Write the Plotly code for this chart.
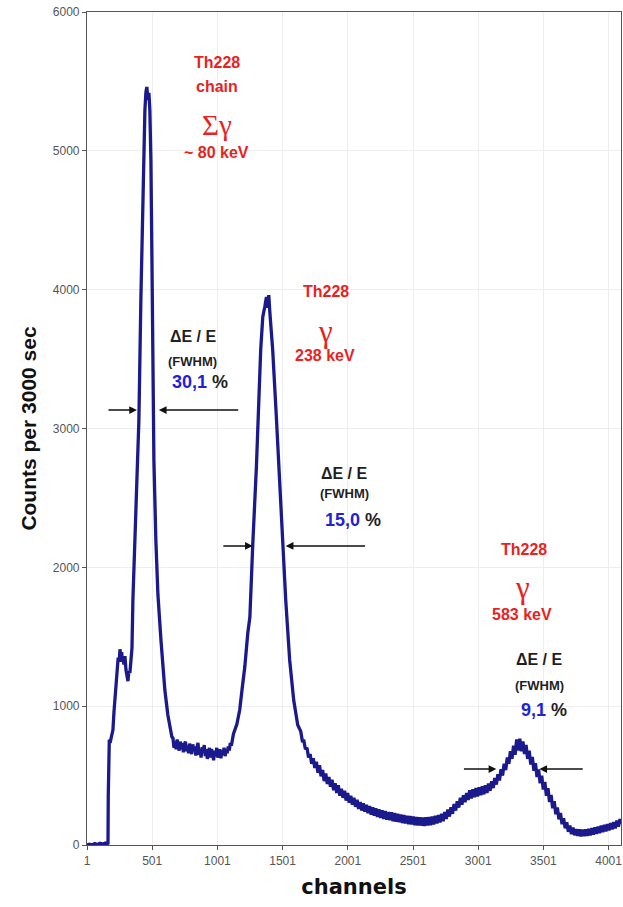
import plotly.graph_objects as go

# Th-228 source spectrum: channel number vs counts collected in 3000 s
channels = [
    1, 20, 40, 60, 80, 100, 120, 140, 155, 162,
    164, 166, 168, 172, 178,
    190, 200, 208, 215, 222, 231, 240, 248, 254, 260, 267, 272, 277, 284,
    292, 300, 308, 315, 322, 330, 338, 346, 353,
    376, 399, 414, 430, 445, 453, 460, 468, 476, 483, 491, 499, 506, 514,
    529, 545, 568, 598, 621, 640, 652,
    660, 668, 676, 684, 692, 700, 708, 716, 724, 732, 740, 748, 756, 764,
    772, 780, 788, 796, 804, 812, 820, 828, 836, 844, 852, 860, 868, 876,
    884, 892, 900, 908, 916, 924, 932, 940, 948, 956, 964, 972, 980, 988,
    996, 1004, 1012, 1020, 1028, 1036, 1044, 1052, 1060, 1068, 1076, 1084,
    1092, 1100, 1108, 1116, 1124,
    1150, 1172, 1190, 1211, 1234, 1250, 1272, 1300, 1333, 1349, 1365, 1377,
    1385, 1395, 1402, 1415, 1425, 1453, 1479, 1500, 1525, 1555, 1586, 1617,
    1640, 1652, 1664, 1676, 1688, 1700, 1712, 1724, 1736, 1748, 1760, 1772,
    1784, 1796, 1808, 1820, 1832, 1844, 1856, 1868, 1880, 1892, 1904, 1916,
    1928, 1940, 1952, 1964, 1976, 1988, 2000, 2012, 2024, 2036, 2048, 2060,
    2072, 2084, 2096, 2108, 2120, 2132, 2144, 2156, 2168, 2180, 2192, 2204,
    2216, 2228, 2240, 2252, 2264, 2276, 2288, 2300, 2312, 2324, 2336, 2348,
    2360, 2372, 2384, 2396, 2408, 2420, 2432, 2444, 2456, 2468, 2480, 2492,
    2504, 2516, 2528, 2540, 2552, 2564, 2576, 2588, 2600, 2612, 2624, 2636,
    2648, 2660, 2672, 2684, 2696, 2708, 2720, 2732, 2744, 2756, 2768, 2780,
    2792, 2804, 2816, 2828, 2840, 2852, 2864, 2876, 2888, 2900, 2912, 2924,
    2936, 2948, 2960, 2972, 2984, 2996, 3008, 3020, 3032, 3044, 3056, 3068,
    3080, 3092, 3104, 3116, 3128, 3140, 3152, 3164, 3176, 3188, 3200, 3212,
    3224, 3236, 3248, 3260, 3272, 3284, 3296, 3308, 3320, 3332, 3344, 3356,
    3368, 3380, 3392, 3404, 3416, 3428, 3440, 3452, 3464, 3476, 3488, 3500,
    3512, 3524, 3536, 3548, 3560, 3572, 3584, 3596, 3608, 3620, 3632, 3644,
    3656, 3668, 3680, 3692, 3704, 3716, 3728, 3740, 3752, 3764, 3776, 3788,
    3800, 3812, 3824, 3836, 3848, 3860, 3872, 3884, 3896, 3908, 3920, 3932,
    3944, 3956, 3968, 3980, 3992, 4004, 4016, 4028, 4040, 4052, 4064, 4076,
    4088, 4096,
]
counts = [
    0, 5, 0, 10, 3, 12, 6, 14, 8, 12,
    350, 600, 700, 760, 735,
    800, 830, 960, 1050, 1150, 1280, 1350, 1320, 1410, 1360, 1390, 1320, 1350, 1300,
    1360, 1260, 1230, 1180, 1250, 1240, 1330, 1420, 1765,
    2413, 3061, 3926, 4790, 5294, 5424, 5460, 5366, 5417, 5294, 4934, 4214, 3349, 2773,
    2197, 1801, 1477, 1116, 936, 820, 778,
    770, 700, 745, 690, 760, 705, 680, 745, 690, 735, 668, 720, 745, 675,
    715, 660, 730, 690, 655, 725, 680, 710, 645, 700, 735, 650, 690, 630,
    705, 665, 720, 640, 690, 620, 675, 700, 630, 690, 655, 610, 680, 640,
    700, 630, 665, 690, 625, 680, 650, 700, 640, 690, 660, 710,
    680, 735, 715, 770, 800,
    870, 972, 1120, 1282, 1527, 1640, 2161, 2723, 3566, 3803, 3880, 3947,
    3870, 3961, 3853, 3688, 3566, 3083, 2607, 2161, 1765, 1333, 1044, 864,
    820, 750, 750, 690, 700, 630, 655, 585, 625, 555, 600, 520,
    575, 495, 540, 460, 515, 440, 490, 420, 470, 395, 445, 375,
    430, 355, 405, 340, 390, 320, 375, 305, 355, 290, 340, 275,
    325, 260, 310, 248, 300, 240, 290, 230, 280, 218, 272, 212,
    265, 202, 258, 195, 250, 188, 245, 182, 238, 178, 235, 172,
    230, 168, 225, 165, 220, 158, 215, 155, 210, 150, 208, 148,
    205, 142, 202, 140, 200, 140, 198, 138, 200, 140, 202, 142,
    205, 148, 210, 155, 215, 162, 225, 172, 238, 188, 255, 205,
    272, 225, 295, 248, 315, 270, 340, 290, 358, 308, 375, 325,
    395, 335, 402, 345, 410, 350, 415, 358, 422, 365, 430, 375,
    442, 390, 460, 410, 482, 435, 510, 465, 545, 500, 585, 540,
    630, 585, 675, 620, 715, 650, 760, 680, 765, 675, 745, 655,
    720, 620, 680, 580, 635, 535, 590, 490, 545, 445, 500, 400,
    455, 355, 410, 310, 360, 265, 315, 222, 270, 185, 230, 150,
    193, 120, 163, 95, 140, 78, 125, 70, 115, 65, 113, 62,
    111, 64, 113, 66, 117, 70, 121, 74, 127, 80, 133, 86,
    139, 92, 145, 98, 151, 105, 157, 112, 165, 120, 175, 132,
    187, 150,
]

x_ticks = [1, 501, 1001, 1501, 2001, 2501, 3001, 3501, 4001]
y_ticks = [0, 1000, 2000, 3000, 4000, 5000, 6000]

RED = "#e8231f"
BLUE = "#1f22d8"
INK = "#1f1f1f"
SANS = "Liberation Sans, Arial, sans-serif"
SERIF = "Liberation Serif, Times New Roman, serif"

fig = go.Figure()
fig.add_trace(go.Scatter(
    x=channels, y=counts, mode="lines",
    line=dict(color="#1a1a8c", width=3.3),
    hoverinfo="skip", showlegend=False,
))


def label(x, y, text, color, size, family=SANS, bold=True):
    fig.add_annotation(
        x=x, y=y, xref="x", yref="y", text=text, showarrow=False,
        font=dict(family=family, size=size, color=color,
                  weight="bold" if bold else "normal"),
        xanchor="center", yanchor="middle",
    )


def fwhm_arrow(tip_x, tail_x, y):
    fig.add_annotation(
        x=tip_x, y=y, ax=tail_x, ay=y, xref="x", yref="y",
        axref="x", ayref="y", text="", showarrow=True,
        arrowhead=2, arrowsize=1.1, arrowwidth=1.4, arrowcolor="#111111",
        standoff=0, startstandoff=0,
    )


# 80 keV summed gamma peak of the Th-228 chain
label(996, 5633, "Th228", RED, 16)
label(996, 5467, "chain", RED, 16)
label(996, 5186, "Σγ", RED, 29, family=SERIF, bold=False)
label(996, 4985, "~ 80 keV", RED, 16)
label(820, 3666, "ΔE / E", INK, 16)
label(813, 3486, "(FWHM)", INK, 13)
label(866, 3335, f"<span style='color:{BLUE}'>30,1</span> %", INK, 18)
fwhm_arrow(384, 154, 3133)
fwhm_arrow(552, 1172, 3133)

# 238 keV line
label(1831, 3990, "Th228", RED, 16)
label(1831, 3700, "γ", RED, 31, family=SERIF, bold=False)
label(1823, 3529, "238 keV", RED, 16)
label(1977, 2679, "ΔE / E", INK, 16)
label(1977, 2535, "(FWHM)", INK, 13)
label(2038, 2341, f"<span style='color:{BLUE}'>15,0</span> %", INK, 18)
fwhm_arrow(1272, 1035, 2154)
fwhm_arrow(1525, 2145, 2154)

# 583 keV line
label(3355, 2132, "Th228", RED, 16)
label(3339, 1856, "γ", RED, 31, family=SERIF, bold=False)
label(3339, 1657, "583 keV", RED, 16)
label(3470, 1333, "ΔE / E", INK, 16)
label(3470, 1152, "(FWHM)", INK, 13)
label(3508, 972, f"<span style='color:{BLUE}'>9,1</span> %", INK, 18)
fwhm_arrow(3140, 2880, 547)
fwhm_arrow(3470, 3814, 547)

axis_common = dict(
    showline=True, linecolor="#555555", linewidth=1.2, mirror=True,
    ticks="outside", ticklen=4, tickcolor="#555555",
    showgrid=True, gridcolor="#eeeeee", gridwidth=1, zeroline=False,
    tickfont=dict(family=SANS, size=12, color="#555555"),
)

fig.update_xaxes(
    range=[1, 4096], tickmode="array", tickvals=x_ticks,
    ticktext=[str(v) for v in x_ticks],
    title=dict(text="channels", standoff=12,
               font=dict(family="DejaVu Sans, sans-serif", size=21,
                         color="#111111", weight="bold")),
    **axis_common,
)
fig.update_yaxes(
    range=[0, 6000], tickmode="array", tickvals=y_ticks,
    ticktext=[str(v) for v in y_ticks],
    title=dict(text="Counts per 3000 sec", standoff=10,
               font=dict(family=SANS, size=21, color="#111111",
                         weight="bold")),
    **axis_common,
)

fig.update_layout(
    width=623, height=907,
    margin=dict(l=87, r=2, t=12, b=62),
    paper_bgcolor="white", plot_bgcolor="white",
    showlegend=False,
)

fig.write_html("out.html")
